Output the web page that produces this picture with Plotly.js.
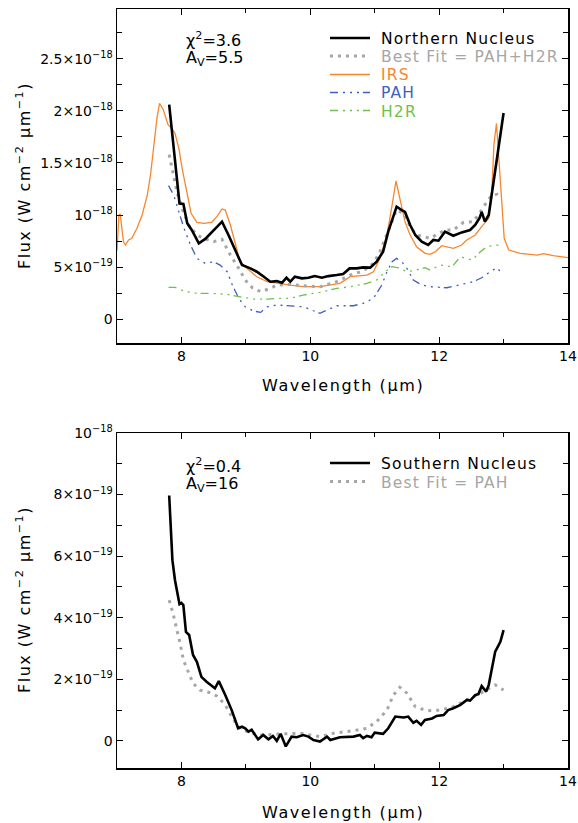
<!DOCTYPE html>
<html><head><meta charset="utf-8">
<script src="https://cdn.plot.ly/plotly-3.0.1.min.js"></script>
<style>html,body{margin:0;padding:0;background:#fff}#chart{width:578px;height:823px}</style>
</head><body><div id="chart"></div>
<script>
// flux values below are in units of 1e-19 W cm^-2 um^-1
const UNIT = 1e-19;

// ---- Top panel: Northern Nucleus ----
const northWave = [7.81,7.85,7.905,7.95,7.97,8.03,8.09,8.16,8.27,8.37,8.5,8.63,8.73,8.84,8.94,9.07,9.17,9.28,9.38,9.48,9.56,9.63,9.69,9.76,9.87,9.97,10.07,10.18,10.28,10.41,10.51,10.61,10.72,10.82,10.93,11.03,11.13,11.21,11.29,11.34,11.42,11.47,11.55,11.63,11.73,11.83,11.91,11.99,12.09,12.22,12.35,12.48,12.56,12.63,12.66,12.71,12.77,12.82,12.89,12.95,13.0];
const northFlux = [20.6,18.3,15.45,12.9,11.1,11.06,9.2,8.56,7.28,7.7,8.56,9.36,8.08,6.47,5.19,4.87,4.55,4.07,3.59,3.65,3.49,3.97,3.59,4.07,3.91,3.97,4.13,3.97,4.13,4.23,4.33,4.87,4.87,4.97,4.94,5.51,6.47,8.4,10.0,10.8,10.48,10.3,9.04,8.08,7.44,7.12,7.6,7.53,8.4,8.01,8.33,8.56,9.04,9.74,10.3,9.36,10.0,12.24,15.1,17.7,19.8];

const northFitWave = [7.81,7.88,7.93,8.01,8.11,8.24,8.37,8.5,8.63,8.76,8.89,8.99,9.1,9.23,9.38,9.48,9.69,9.89,10.15,10.41,10.62,10.82,10.98,11.08,11.16,11.24,11.34,11.45,11.55,11.65,11.78,11.86,12.09,12.22,12.38,12.53,12.66,12.74,12.82,12.9,12.95];
const northFitFlux = [15.8,13.85,12.24,10.64,9.04,8.08,7.7,7.44,7.66,6.15,4.87,3.75,3.01,2.63,2.95,3.27,3.33,3.2,3.1,3.59,4.23,4.62,5.35,6.47,7.76,9.04,10.48,10.16,8.88,8.08,7.92,7.76,8.56,8.56,9.3,9.36,10.48,11.28,11.92,11.99,11.6];

const irsWave = [7.0,7.03,7.05,7.10,7.13,7.18,7.23,7.31,7.39,7.47,7.52,7.57,7.62,7.66,7.72,7.79,7.85,7.9,7.96,8.01,8.09,8.15,8.24,8.35,8.47,8.55,8.63,8.68,8.76,8.84,8.91,9.02,9.17,9.33,9.48,9.69,9.89,10.15,10.46,10.62,10.88,10.98,11.08,11.19,11.27,11.33,11.39,11.47,11.55,11.65,11.78,11.86,11.94,12.04,12.22,12.35,12.43,12.56,12.66,12.77,12.82,12.85,12.89,12.92,12.97,13.01,13.08,13.26,13.52,13.62,13.77,14.0];
const irsFlux = [6.6,10.0,10.1,7.44,7.12,7.6,7.76,8.72,10.0,11.92,13.85,16.73,19.3,20.74,20.1,18.7,18.3,17.85,16.4,14.5,11.92,10.16,9.3,9.2,9.3,9.84,10.58,10.48,9.04,7.28,5.51,4.87,4.07,3.59,3.43,3.27,3.11,3.11,3.43,4.07,4.23,4.55,5.83,8.08,10.96,13.27,11.6,9.36,8.08,6.95,6.32,6.22,6.47,7.05,6.8,7.12,7.6,8.08,8.88,9.68,12.56,16.73,18.8,15.77,11.28,7.76,6.63,6.32,6.15,6.28,6.09,5.9];

const pahWave = [7.8,7.88,7.96,8.04,8.14,8.24,8.37,8.5,8.6,8.71,8.79,8.89,8.99,9.12,9.23,9.33,9.48,9.69,9.89,10.02,10.15,10.26,10.41,10.67,10.82,10.98,11.11,11.19,11.27,11.34,11.42,11.5,11.6,11.73,11.86,12.12,12.33,12.53,12.66,12.79,12.9,12.97];
const pahFlux = [12.82,11.92,10.32,8.72,7.12,5.83,5.35,5.51,5.19,4.55,3.27,1.99,1.18,0.77,0.64,1.18,1.35,1.28,1.18,0.87,0.55,0.87,1.28,1.28,1.51,1.99,3.27,4.55,5.51,5.83,5.51,4.87,3.75,3.27,3.11,3.01,3.27,3.59,3.97,4.55,4.93,4.39];

const h2rWave = [7.8,7.9,8.04,8.24,8.45,8.71,8.91,9.12,9.33,9.48,9.69,9.89,10.15,10.41,10.62,10.88,11.03,11.16,11.27,11.37,11.5,11.65,11.78,11.86,12.02,12.2,12.33,12.51,12.64,12.74,12.87,12.95];
const h2rFlux = [3.05,3.05,2.69,2.47,2.47,2.37,2.14,1.92,1.92,1.99,1.99,2.31,2.56,2.95,3.11,3.43,3.75,4.55,5.03,4.93,4.55,4.71,4.93,4.71,5.19,5.03,5.99,5.67,6.47,6.95,7.12,7.05];

// ---- Bottom panel: Southern Nucleus ----
const southWave = [7.81,7.83,7.86,7.9,7.94,7.97,8.0,8.03,8.07,8.12,8.18,8.24,8.31,8.39,8.52,8.58,8.68,8.78,8.88,8.94,8.99,9.04,9.09,9.19,9.27,9.35,9.42,9.48,9.54,9.62,9.71,9.79,9.89,9.97,10.05,10.15,10.26,10.31,10.46,10.67,10.77,10.82,10.88,10.95,11.0,11.13,11.21,11.32,11.45,11.52,11.6,11.65,11.72,11.78,11.89,11.96,12.07,12.14,12.22,12.33,12.43,12.48,12.56,12.61,12.66,12.73,12.77,12.82,12.87,12.95,13.0];
const southFlux = [7.97,7.06,5.87,5.22,4.73,4.44,4.48,4.41,3.54,3.44,2.79,2.57,2.08,1.92,1.71,1.94,1.49,1.0,0.41,0.46,0.41,0.3,0.36,0.05,0.19,0.05,0.16,0,0.23,-0.18,0.14,0.12,0.19,0.14,0.03,-0.02,0.14,0.03,0.12,0.14,0.19,0.09,0.16,0.12,0.27,0.23,0.41,0.79,0.76,0.79,0.59,0.65,0.52,0.68,0.73,0.81,0.84,1.0,1.06,1.17,1.33,1.31,1.49,1.52,1.78,1.6,1.82,2.36,2.9,3.22,3.6];

const southFitWave = [7.81,7.87,7.93,7.98,8.03,8.11,8.18,8.29,8.42,8.55,8.68,8.78,8.88,9.07,9.27,9.58,9.84,10.15,10.36,10.67,10.88,11.03,11.19,11.29,11.39,11.5,11.63,11.81,12.02,12.22,12.43,12.64,12.87,13.0];
const southFitFlux = [4.57,4.14,3.6,3.17,2.63,2.25,1.87,1.65,1.58,1.46,1.17,0.79,0.46,0.25,0.19,0.23,0.25,0.14,0.25,0.33,0.41,0.63,1.0,1.49,1.74,1.55,1.11,0.98,1.0,1.11,1.33,1.55,1.82,1.65];

// ---- Tick labels ----
const xTickVals = [8,10,12,14];
const xTickText = ['8','10','12','14'];
const yTopTickVals = [0,5e-19,1e-18,1.5e-18,2e-18,2.5e-18];
const yTopTickText = ['0','5×10<sup>−19</sup>','10<sup>−18</sup>','1.5×10<sup>−18</sup>','2×10<sup>−18</sup>','2.5×10<sup>−18</sup>'];
const yBotTickVals = [0,2e-19,4e-19,6e-19,8e-19,1e-18];
const yBotTickText = ['0','2×10<sup>−19</sup>','4×10<sup>−19</sup>','6×10<sup>−19</sup>','8×10<sup>−19</sup>','10<sup>−18</sup>'];

// ---- Legend entries ----
const topLegend = ['Northern Nucleus','Best Fit = PAH+H2R','IRS','PAH','H2R'];
const botLegend = ['Southern Nucleus','Best Fit = PAH'];

const C = {black:'#000000', gray:'#a6a6a6', orange:'#f7862c', blue:'#3f5fbf', green:'#6cc24a'};
const DASH_DDD = '8px,5px,2px,5px,2px,5px,2px,4px';
const FONT = 'DejaVu Sans, sans-serif';
const spaced = (s, ls) => '<span style="letter-spacing:' + ls + 'px">' + s + '</span>';

const scale = a => a.map(v => v * UNIT);

// pixel -> paper helpers for decorations
const L = 117, R = 568, T = 9, B = 768;
const pxX = x => (x - L) / (R - L);
const pxY = y => (B - y) / (B - T);

const styles = {
  north: {color:C.black, width:2.6},
  fit: {color:C.gray, width:3, dash:'3px,5px'},
  irs: {color:C.orange, width:1.3},
  pah: {color:C.blue, width:1.3, dash:DASH_DDD},
  h2r: {color:C.green, width:1.3, dash:DASH_DDD}
};

const traces = [
  {x:irsWave, y:scale(irsFlux), name:topLegend[2], line:styles.irs, xaxis:'x', yaxis:'y'},
  {x:pahWave, y:scale(pahFlux), name:topLegend[3], line:styles.pah, xaxis:'x', yaxis:'y'},
  {x:h2rWave, y:scale(h2rFlux), name:topLegend[4], line:styles.h2r, xaxis:'x', yaxis:'y'},
  {x:northFitWave, y:scale(northFitFlux), name:topLegend[1], line:styles.fit, xaxis:'x', yaxis:'y'},
  {x:northWave, y:scale(northFlux), name:topLegend[0], line:styles.north, xaxis:'x', yaxis:'y'},
  {x:southFitWave, y:scale(southFitFlux), name:botLegend[1], line:styles.fit, xaxis:'x2', yaxis:'y2'},
  {x:southWave, y:scale(southFlux), name:botLegend[0], line:styles.north, xaxis:'x2', yaxis:'y2'}
].map(t => Object.assign({type:'scatter', mode:'lines', showlegend:false, hoverinfo:'skip'}, t));

function xAxis(anchor) {
  return {
    anchor, domain:[0,1], range:[7,14],
    tickmode:'array', tickvals:xTickVals, ticktext:xTickText,
    ticks:'inside', ticklen:6, tickwidth:1, tickcolor:'#000',
    minor:{tickmode:'linear', tick0:7, dtick:1, ticks:'inside', ticklen:4, tickwidth:1, tickcolor:'#000'},
    showline:true, linewidth:1.5, linecolor:'#000', mirror:'allticks',
    showgrid:false, zeroline:false,
    tickfont:{family:FONT, size:14, color:'#000'}
  };
}
function yAxis(anchor, domain, range, vals, text, minorD) {
  return {
    anchor, domain, range,
    tickmode:'array', tickvals:vals, ticktext:text,
    ticks:'inside', ticklen:6, tickwidth:1, tickcolor:'#000',
    minor:{tickmode:'linear', tick0:0, dtick:minorD, ticks:'inside', ticklen:5, tickwidth:1, tickcolor:'#000'},
    showline:true, linewidth:1.5, linecolor:'#000', mirror:'allticks',
    showgrid:false, zeroline:false,
    tickfont:{family:FONT, size:14, color:'#000'}
  };
}

const shapes = [];
const annotations = [];
function legendRow(yPix, label, style, textColor) {
  shapes.push({type:'line', xref:'paper', yref:'paper', x0:pxX(330), x1:pxX(370), y0:pxY(yPix), y1:pxY(yPix),
    line:{color:style.color, width:style.width, dash:style.dash || 'solid'}});
  annotations.push({xref:'paper', yref:'paper', x:pxX(379), y:pxY(yPix+1), xanchor:'left', yanchor:'middle',
    text:spaced(label, 1.2), showarrow:false, font:{family:FONT, size:15.5, color:textColor}});
}
legendRow(38, topLegend[0], styles.north, C.black);
legendRow(56, topLegend[1], styles.fit, C.gray);
legendRow(74.5, topLegend[2], styles.irs, C.orange);
legendRow(92.5, topLegend[3], styles.pah, C.blue);
legendRow(110.5, topLegend[4], styles.h2r, C.green);
legendRow(463, botLegend[0], styles.north, C.black);
legendRow(481.5, botLegend[1], styles.fit, C.gray);

function note(xPix, yPix, text) {
  annotations.push({xref:'paper', yref:'paper', x:pxX(xPix), y:pxY(yPix), xanchor:'left', yanchor:'middle',
    text, showarrow:false, font:{family:FONT, size:16, color:'#000'}});
}
note(184, 39, 'χ<sup>2</sup>=3.6');
note(184, 59, 'A<sub>V</sub>=5.5');
note(184, 465, 'χ<sup>2</sup>=0.4');
note(184, 484, 'A<sub>V</sub>=16');

const yTitle = spaced('Flux (W cm<sup>−2</sup> μm<sup>−1</sup>)', 1.5);
annotations.push({xref:'paper', yref:'paper', x:pxX(23), y:pxY(176), textangle:-90, xanchor:'center', yanchor:'middle',
  text:yTitle, showarrow:false, font:{family:FONT, size:16, color:'#000'}});
annotations.push({xref:'paper', yref:'paper', x:pxX(23), y:pxY(600), textangle:-90, xanchor:'center', yanchor:'middle',
  text:yTitle, showarrow:false, font:{family:FONT, size:16, color:'#000'}});
const xTitle = spaced('Wavelength (μm)', 1.6);
annotations.push({xref:'paper', yref:'paper', x:pxX(343), y:pxY(385), xanchor:'center', yanchor:'middle',
  text:xTitle, showarrow:false, font:{family:FONT, size:16, color:'#000'}});
annotations.push({xref:'paper', yref:'paper', x:pxX(343), y:pxY(812), xanchor:'center', yanchor:'middle',
  text:xTitle, showarrow:false, font:{family:FONT, size:16, color:'#000'}});

const layout = {
  width:578, height:823,
  margin:{l:L, r:578-R, t:T, b:823-B, pad:0},
  paper_bgcolor:'#fff', plot_bgcolor:'#fff',
  font:{family:FONT, color:'#000'},
  showlegend:false,
  xaxis: xAxis('y'),
  yaxis: yAxis('x', [pxY(343), 1], [-2.3e-19, 2.98e-18], yTopTickVals, yTopTickText, 2.5e-19),
  xaxis2: xAxis('y2'),
  yaxis2: yAxis('x2', [0, pxY(433)], [-0.88e-19, 1.0e-18], yBotTickVals, yBotTickText, 1e-19),
  shapes, annotations
};

Plotly.newPlot('chart', traces, layout, {displayModeBar:false, staticPlot:true});
</script>
</body></html>
